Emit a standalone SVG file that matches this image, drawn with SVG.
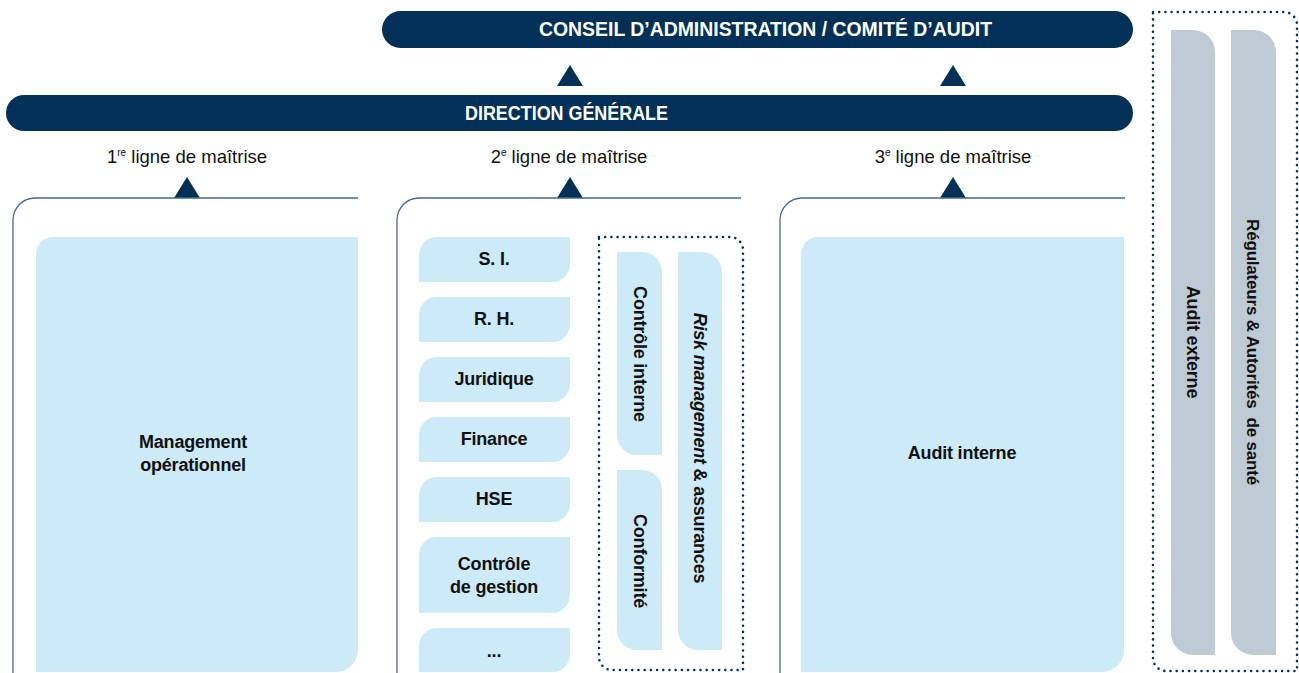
<svg xmlns="http://www.w3.org/2000/svg" width="1299" height="673" viewBox="0 0 1299 673">
<defs>
<style>
.navy{fill:#023057}
.lb{fill:#CCEAF7}
.gr{fill:#BFCBD4}
.frame{fill:none;stroke:#44688a;stroke-width:1.3}
.dots{fill:none;stroke:#023057;stroke-width:2.6;stroke-linecap:round;stroke-dasharray:0 6.2}
.bar{font-family:"Liberation Sans",Arial,sans-serif;font-weight:bold;font-size:19.5px;fill:#ffffff;text-anchor:middle}
.lbl{font-family:"Liberation Sans",Arial,sans-serif;font-size:18.5px;fill:#111111;text-anchor:middle}
.sup{font-size:10px}
.t{font-family:"Liberation Sans",Arial,sans-serif;font-weight:bold;font-size:18px;fill:#111111;text-anchor:middle;letter-spacing:-0.2px}
.s{font-size:17px}
</style>
</defs>
<rect width="1299" height="673" fill="#ffffff"/>

<g id="conseil">
<rect class="navy" x="382" y="11" width="751" height="37" rx="18.5"/>
<text class="bar" x="765.5" y="36" textLength="453" lengthAdjust="spacingAndGlyphs">CONSEIL D’ADMINISTRATION / COMITÉ D’AUDIT</text>
</g>

<g id="direction">
<rect class="navy" x="6" y="95" width="1127" height="36" rx="18"/>
<text class="bar" x="566.5" y="120" textLength="203" lengthAdjust="spacingAndGlyphs">DIRECTION GÉNÉRALE</text>
</g>

<g id="connectors">
<polygon class="navy" points="557,86 583,86 570,65"/>
<polygon class="navy" points="940,86 966,86 953,65"/>
<polygon class="navy" points="174,198 200,198 187,177"/>
<polygon class="navy" points="557,198 583,198 570,177"/>
<polygon class="navy" points="940,198 966,198 953,177"/>
</g>

<g id="ligne1">
<text class="lbl" x="187" y="163">1<tspan class="sup" dy="-7">re</tspan><tspan dy="7"> ligne de maîtrise</tspan></text>
<path class="frame" d="M358 198 H35 A22 22 0 0 0 13 220 V673"/>
<g id="management">
<path class="lb" d="M53 237 H358 V650 A22 22 0 0 1 336 672 H36 V254 A17 17 0 0 1 53 237 Z"/>
<text class="t" x="193" y="448">Management</text>
<text class="t" x="193" y="471">opérationnel</text>
</g>
</g>

<g id="ligne2">
<text class="lbl" x="569" y="163">2<tspan class="sup" dy="-7">e</tspan><tspan dy="7"> ligne de maîtrise</tspan></text>
<path class="frame" d="M741 198 H419 A22 22 0 0 0 397 220 V673"/>
<g id="si"><path class="lb" d="M437 237 H570 V264 A18 18 0 0 1 552 282 H419 V255 A18 18 0 0 1 437 237 Z"/><text class="t" x="494" y="265">S. I.</text></g>
<g id="rh"><path class="lb" d="M437 297 H570 V324 A18 18 0 0 1 552 342 H419 V315 A18 18 0 0 1 437 297 Z"/><text class="t" x="494" y="325">R. H.</text></g>
<g id="juridique"><path class="lb" d="M437 357 H570 V384 A18 18 0 0 1 552 402 H419 V375 A18 18 0 0 1 437 357 Z"/><text class="t" x="494" y="385">Juridique</text></g>
<g id="finance"><path class="lb" d="M437 417 H570 V444 A18 18 0 0 1 552 462 H419 V435 A18 18 0 0 1 437 417 Z"/><text class="t" x="494" y="445">Finance</text></g>
<g id="hse"><path class="lb" d="M437 477 H570 V504 A18 18 0 0 1 552 522 H419 V495 A18 18 0 0 1 437 477 Z"/><text class="t" x="494" y="505">HSE</text></g>
<g id="controle-gestion"><path class="lb" d="M437 537 H570 V595 A18 18 0 0 1 552 613 H419 V555 A18 18 0 0 1 437 537 Z"/><text class="t" x="494" y="570">Contrôle</text><text class="t" x="494" y="593">de gestion</text></g>
<g id="etc"><path class="lb" d="M437 628 H570 V654 A18 18 0 0 1 552 672 H419 V646 A18 18 0 0 1 437 628 Z"/><text class="t" x="494" y="657">...</text></g>
<g id="risk-group">
<path class="dots" d="M599 237 H730 A13 13 0 0 1 743 250 V670 H612 A13 13 0 0 1 599 657 Z"/>
<g id="controle-interne"><path class="lb" d="M617 252 H642 A20 20 0 0 1 662 272 V455 H637 A20 20 0 0 1 617 435 Z"/><text class="t" transform="translate(640 354) rotate(90)" y="6.5">Contrôle interne</text></g>
<g id="conformite"><path class="lb" d="M617 470 H642 A20 20 0 0 1 662 490 V650 H637 A20 20 0 0 1 617 630 Z"/><text class="t" transform="translate(640 561) rotate(90)" y="6.5">Conformité</text></g>
<g id="risk"><path class="lb" d="M678 252 H702 A20 20 0 0 1 722 272 V650 H698 A20 20 0 0 1 678 630 Z"/><text class="t" transform="translate(700 448) rotate(90)" y="6.5"><tspan font-style="italic">Risk management</tspan> &amp; assurances</text></g>
</g>
</g>

<g id="ligne3">
<text class="lbl" x="953" y="163">3<tspan class="sup" dy="-7">e</tspan><tspan dy="7"> ligne de maîtrise</tspan></text>
<path class="frame" d="M1125 198 H802 A22 22 0 0 0 780 220 V673"/>
<g id="audit-interne">
<path class="lb" d="M818 237 H1124 V650 A22 22 0 0 1 1102 672 H801 V254 A17 17 0 0 1 818 237 Z"/>
<text class="t" x="962" y="459">Audit interne</text>
</g>
</g>

<g id="externes">
<path class="dots" d="M1153 12 H1284 A13 13 0 0 1 1297 25 V671 H1166 A13 13 0 0 1 1153 658 Z"/>
<g id="audit-externe"><path class="gr" d="M1171 30 H1193 A22 22 0 0 1 1215 52 V655 H1193 A22 22 0 0 1 1171 633 Z"/><text class="t" transform="translate(1193 342) rotate(90)" y="6.5">Audit externe</text></g>
<g id="regulateurs"><path class="gr" d="M1231 30 H1254 A22 22 0 0 1 1276 52 V655 H1253 A22 22 0 0 1 1231 633 Z"/><text class="t s" transform="translate(1253 352) rotate(90)" y="6" xml:space="preserve">Régulateurs &amp; Autorités  de santé</text></g>
</g>
</svg>
